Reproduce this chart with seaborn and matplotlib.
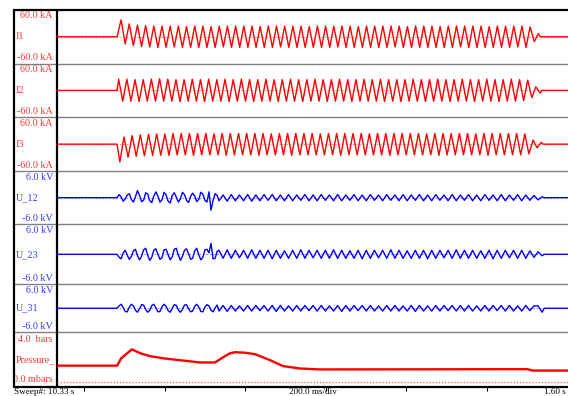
import numpy as np
import pandas as pd
import matplotlib
matplotlib.use("Agg")
import matplotlib.pyplot as plt
from matplotlib.patches import Rectangle
import seaborn as sns

W, H = 568, 396

# time base in ms, 200 ms per division
T_START, T_END = 133, 1401
TICKS_MS = [200, 400, 600, 800, 1000, 1200]
FAULT_ON = 282
HALF_CYCLE = 10.15
QUARTER_CYCLE = 5.07

# phase currents (kA), one extremum per half cycle
I1_T0 = 292
I1_PEAKS = [
    38, -16, 29, -20, 26, -22, 25, -23, 24, -24,
    24, -24, 24, -23, 24, -24, 23, -24, 24, -24,
    24, -24, 23, -24, 24, -23, 24, -24, 24, -24,
    24, -24, 24, -24, 23, -24, 24, -24, 24, -23,
    24, -24, 24, -24, 24, -24, 23, -24, 24, -24,
    24, -24, 24, -23, 24, -24, 24, -24, 23, -24,
    24, -24, 24, -24, 24, -24, 24, -23, 24, -24,
    23, -24, 24, -24, 24, -24, 24, -24, 23, -24,
    24, -24, 24, -23, 24, -24, 24, -24, 24, -24,
    23, -24, 24, -24, 24, -24, 24, -23, 24, -24,
    22, -11, 7,
]
I2_T0 = 286
I2_PEAKS = [
    25, -24, 25, -24, 24, -25, 24, -24, 25, -24,
    26, -24, 25, -24, 24, -25, 24, -24, 25, -24,
    24, -25, 25, -24, 24, -24, 25, -25, 24, -24,
    25, -24, 24, -25, 24, -24, 25, -24, 24, -25,
    24, -24, 25, -24, 24, -25, 24, -24, 25, -24,
    24, -25, 24, -24, 25, -24, 24, -25, 24, -24,
    25, -24, 24, -24, 25, -25, 24, -24, 24, -25,
    24, -24, 25, -24, 24, -25, 24, -24, 25, -24,
    24, -25, 24, -24, 25, -24, 24, -25, 24, -24,
    25, -24, 24, -25, 24, -24, 25, -24, 24, -23,
    23, -16, 8, -6,
]
I3_T0 = 289
I3_PEAKS = [
    -40, 16, -29, 19, -27, 21, -26, 22, -25, 23,
    -25, 23, -25, 24, -24, 24, -24, 24, -25, 24,
    -24, 24, -24, 23, -24, 24, -25, 24, -24, 24,
    -24, 24, -24, 24, -25, 24, -24, 23, -24, 24,
    -24, 24, -25, 24, -24, 24, -24, 24, -24, 23,
    -24, 24, -24, 24, -25, 24, -24, 24, -24, 24,
    -24, 23, -24, 24, -24, 24, -25, 24, -24, 24,
    -24, 24, -24, 24, -24, 23, -24, 24, -25, 24,
    -24, 24, -24, 24, -24, 24, -24, 23, -24, 24,
    -25, 24, -24, 24, -24, 24, -24, 24, -24, 23,
    -22, 9, -8, 4,
]

# line voltages (kV): irregular start sampled per quarter cycle, then per half cycle
U_LATE_T0 = 535
U12_EARLY = [
    0.0, 0.7, 0.2, -0.8, -0.3, 0.6, 0.9, -0.4, -1.0, 0.2,
    1.6, 0.5, -0.9, -0.6, 1.1, 0.8, -0.7, -1.1, 0.4, 1.3,
    0.3, -1.0, -0.5, 1.2, 0.6, -0.8, -1.2, 0.5, 1.1, 0.1,
    -1.0, -0.3, 1.2, 0.7, -0.6, -1.1, 0.3, 1.0, 0.4, -0.9,
    -0.4, 1.2, 0.8, -0.6, -1.0, 1.3, -2.8, -0.6, 0.9, 0.5,
]
U12_LATE = [
    -0.7, 0.6, -0.8, 0.7, -0.7, 0.6, -0.7, 0.7, -0.8, 0.6,
    -0.7, 0.7, -0.6, 0.7, -0.7, 0.6, -0.7, 0.7, -0.7, 0.6,
    -0.6, 0.7, -0.7, 0.6, -0.7, 0.7, -0.6, 0.6, -0.7, 0.7,
    -0.7, 0.6, -0.6, 0.7, -0.7, 0.6, -0.7, 0.7, -0.6, 0.6,
    -0.7, 0.7, -0.6, 0.6, -0.7, 0.7, -0.7, 0.6, -0.6, 0.7,
    -0.7, 0.6, -0.7, 0.7, -0.6, 0.6, -0.7, 0.7, -0.7, 0.6,
    -0.6, 0.7, -0.7, 0.6, -0.7, 0.7, -0.6, 0.6, -0.7, 0.7,
    -0.7, 0.6, -0.6, 0.7, -0.7, 0.6, -0.6, 0.5, -0.5, 0.2,
]
U23_EARLY = [
    0.0, -0.6, -0.9, 0.3, 0.8, -0.2, -1.0, -0.5, 0.7, 1.0,
    -0.3, -1.1, -0.4, 0.9, 1.2, -0.2, -1.2, -0.6, 0.8, 1.1,
    0.0, -1.0, -0.7, 0.9, 1.0, -0.1, -1.1, -0.5, 1.0, 1.2,
    -0.2, -1.2, -0.4, 0.8, 1.1, 0.1, -1.0, -0.8, 0.7, 1.2,
    -0.1, -1.1, -0.6, 0.9, 1.0, 0.3, 2.2, -0.9, -0.8, 0.6,
]
U23_LATE = [
    0.8, -0.8, 0.9, -0.8, 0.8, -0.7, 0.8, -0.8, 0.9, -0.8,
    0.8, -0.8, 0.8, -0.9, 0.8, -0.8, 0.7, -0.8, 0.8, -0.8,
    0.9, -0.8, 0.8, -0.7, 0.8, -0.8, 0.8, -0.8, 0.9, -0.8,
    0.8, -0.8, 0.7, -0.8, 0.8, -0.9, 0.8, -0.8, 0.8, -0.7,
    0.8, -0.8, 0.9, -0.8, 0.8, -0.8, 0.7, -0.8, 0.8, -0.8,
    0.8, -0.9, 0.8, -0.8, 0.8, -0.7, 0.8, -0.8, 0.9, -0.8,
    0.8, -0.8, 0.8, -0.8, 0.7, -0.8, 0.8, -0.9, 0.8, -0.8,
    0.8, -0.7, 0.8, -0.8, 0.8, -0.8, 0.7, -0.6, 0.5, -0.3,
]
U31_EARLY = [
    0.0, 0.6, 1.0, 0.2, -0.8, -0.9, 0.3, 1.0, 0.6, -0.5,
    -1.0, -0.1, 0.9, 0.8, -0.3, -1.0, -0.5, 0.7, 1.0, 0.1,
    -0.9, -0.8, 0.4, 1.0, 0.5, -0.6, -1.0, 0.0, 0.9, 0.7,
    -0.4, -1.0, -0.3, 0.8, 0.9, -0.1, -0.9, -0.7, 0.5, 1.0,
    0.3, -0.8, -0.9, 0.3, 0.9, 0.6, -0.5, -0.9, 0.1, 0.8,
]
U31_LATE = [
    -0.7, 0.7, -0.8, 0.7, -0.7, 0.6, -0.7, 0.7, -0.7, 0.7,
    -0.6, 0.7, -0.7, 0.7, -0.8, 0.7, -0.7, 0.6, -0.7, 0.7,
    -0.7, 0.7, -0.6, 0.7, -0.7, 0.7, -0.7, 0.6, -0.7, 0.7,
    -0.8, 0.7, -0.7, 0.7, -0.6, 0.7, -0.7, 0.7, -0.7, 0.6,
    -0.7, 0.7, -0.7, 0.7, -0.7, 0.6, -0.7, 0.7, -0.8, 0.7,
    -0.7, 0.6, -0.7, 0.7, -0.7, 0.7, -0.6, 0.7, -0.7, 0.7,
    -0.7, 0.7, -0.7, 0.6, -0.7, 0.7, -0.7, 0.7, -0.6, 0.7,
    -0.7, 0.7, -0.7, 0.6, -0.7, 0.7, -0.6, 0.6, 0.6, -1.0,
]

# arc chamber pressure (bar)
P_TIME = [133, 282, 292, 305, 319, 340, 364, 400, 438, 488, 525, 545, 562,
          575, 600, 624, 662, 694, 736, 786, 1257, 1300, 1314, 1401]
P_BAR = [1.47, 1.47, 2.1, 2.5, 2.9, 2.55, 2.3, 2.1, 1.95, 1.75, 1.75, 2.2, 2.55,
         2.65, 2.6, 2.48, 1.95, 1.43, 1.22, 1.14, 1.16, 1.16, 1.04, 1.04]

RED, BLUE = "#ff0000", "#0000ff"
RED_TXT, BLUE_TXT = "#ff3838", "#3838ff"


def current_trace(t0, peaks):
    t = [T_START, FAULT_ON] + list(t0 + HALF_CYCLE * np.arange(len(peaks)))
    v = [0, 0] + list(peaks)
    t += [t[-1] + 5, T_END]
    v += [0, 0]
    return pd.DataFrame({"t": t, "v": v})


def voltage_trace(early, late):
    t = ([T_START] + list(FAULT_ON + QUARTER_CYCLE * np.arange(len(early)))
         + list(U_LATE_T0 + HALF_CYCLE * np.arange(len(late))))
    v = [0] + list(early) + list(late)
    t += [t[-1] + 5, T_END]
    v += [0, 0]
    return pd.DataFrame({"t": t, "v": v})


sns.set_theme(style="white")
plt.rcParams["font.family"] = ["Liberation Serif", "DejaVu Serif"]
FS = 7.3

fig = plt.figure(figsize=(W / 100, H / 100), dpi=100)
base = fig.add_axes([0, 0, 1, 1])
base.set_xlim(0, W)
base.set_ylim(H, 0)
base.axis("off")

# name, data, trace colour, text colour, top label, bottom label, ylim, panel top/bottom px
channels = [
    ("I1", current_trace(I1_T0, I1_PEAKS), RED, RED_TXT, "60.0 kA", "-60.0 kA", (-60, 60), 10, 63.5),
    ("I2", current_trace(I2_T0, I2_PEAKS), RED, RED_TXT, "60.0 kA", "-60.0 kA", (-60, 60), 63.5, 117.3),
    ("I3", current_trace(I3_T0, I3_PEAKS), RED, RED_TXT, "60.0 kA", "-60.0 kA", (-60, 60), 117.3, 171),
    ("U_12", voltage_trace(U12_EARLY, U12_LATE), BLUE, BLUE_TXT, "6.0 kV", "-6.0 kV", (-6, 6), 171, 224.3),
    ("U_23", voltage_trace(U23_EARLY, U23_LATE), BLUE, BLUE_TXT, "6.0 kV", "-6.0 kV", (-6, 6), 224.3, 284.3),
    ("U_31", voltage_trace(U31_EARLY, U31_LATE), BLUE, BLUE_TXT, "6.0 kV", "-6.0 kV", (-6, 6), 284.3, 332.2),
]

for name, df, color, tcolor, top_lbl, bot_lbl, lim, y0, y1 in channels:
    ax = fig.add_axes([57 / W, 1 - y1 / H, (W - 57) / W, (y1 - y0) / H])
    ax.patch.set_alpha(0)
    ax.axhline(0, color=color, lw=0.5, ls=(0, (2, 3)), alpha=0.7)
    sns.lineplot(data=df, x="t", y="v", ax=ax, color=color, linewidth=1.0,
                 estimator=None, sort=False, solid_joinstyle="round")
    ax.set_xlim(T_START, T_END)
    ax.set_ylim(*lim)
    ax.axis("off")
    base.text(53, y0 + 6, top_lbl, ha="right", va="center", color=tcolor, fontsize=FS)
    base.text(16, (y0 + y1) / 2, name, ha="left", va="center", color=tcolor, fontsize=FS)
    base.text(53, y1 - 6, bot_lbl, ha="right", va="center", color=tcolor, fontsize=FS)

# pressure panel
p_top, p_bot = 332.2, 387
axp = fig.add_axes([57 / W, 1 - p_bot / H, (W - 57) / W, (p_bot - p_top) / H])
axp.patch.set_alpha(0)
axp.axhline(0, color="#ff5050", lw=0.9, ls=(0, (1, 1.5)))
sns.lineplot(x=P_TIME, y=P_BAR, ax=axp, color=RED, linewidth=1.7, estimator=None, sort=False)
axp.set_xlim(T_START, T_END)
axp.set_ylim(-0.4, 4.4)
axp.set_xticks(TICKS_MS)
axp.set_yticks([])
axp.set_xlabel("")
axp.set_ylabel("")
axp.tick_params(axis="x", bottom=True, length=3, width=0.8, color="black",
                direction="out", labelbottom=False)
for sp in axp.spines.values():
    sp.set_visible(False)

base.text(53, p_top + 7, "4.0  bars", ha="right", va="center", color=RED_TXT, fontsize=FS)
base.text(16, (p_top + p_bot) / 2, "Pressure_", ha="left", va="center", color=RED_TXT, fontsize=FS)
mb = base.text(53, p_bot - 7, "0.0 mbars", ha="right", va="center", color=RED_TXT, fontsize=FS)
mb.set_clip_path(Rectangle((16, 330), 41, 60, transform=base.transData))

# frame: gray channel separators, black border
for y in [63.5, 117.3, 171, 224.3, 284.3, 332.2]:
    base.plot([14, W], [y, y], color="#808080", lw=1.0, zorder=3)
base.plot([14, W], [10, 10], color="black", lw=1.6, zorder=4)
base.plot([14, W], [387, 387], color="black", lw=1.6, zorder=4)
base.plot([14, 14], [10, 387], color="black", lw=1.6, zorder=4)
base.plot([57, 57], [10, 387], color="black", lw=1.6, zorder=4)

# footer row sits just under the frame
FS_FOOT = 6.6
base.text(14, 394, "Sweep#: 10.33 s", ha="left", va="baseline", color="black", fontsize=FS_FOOT)
base.text(313, 394, "200.0 ms/div", ha="center", va="baseline", color="black", fontsize=FS_FOOT)
base.text(566, 394, "1.60 s", ha="right", va="baseline", color="black", fontsize=FS_FOOT)

fig.savefig("out.png", dpi=100)
